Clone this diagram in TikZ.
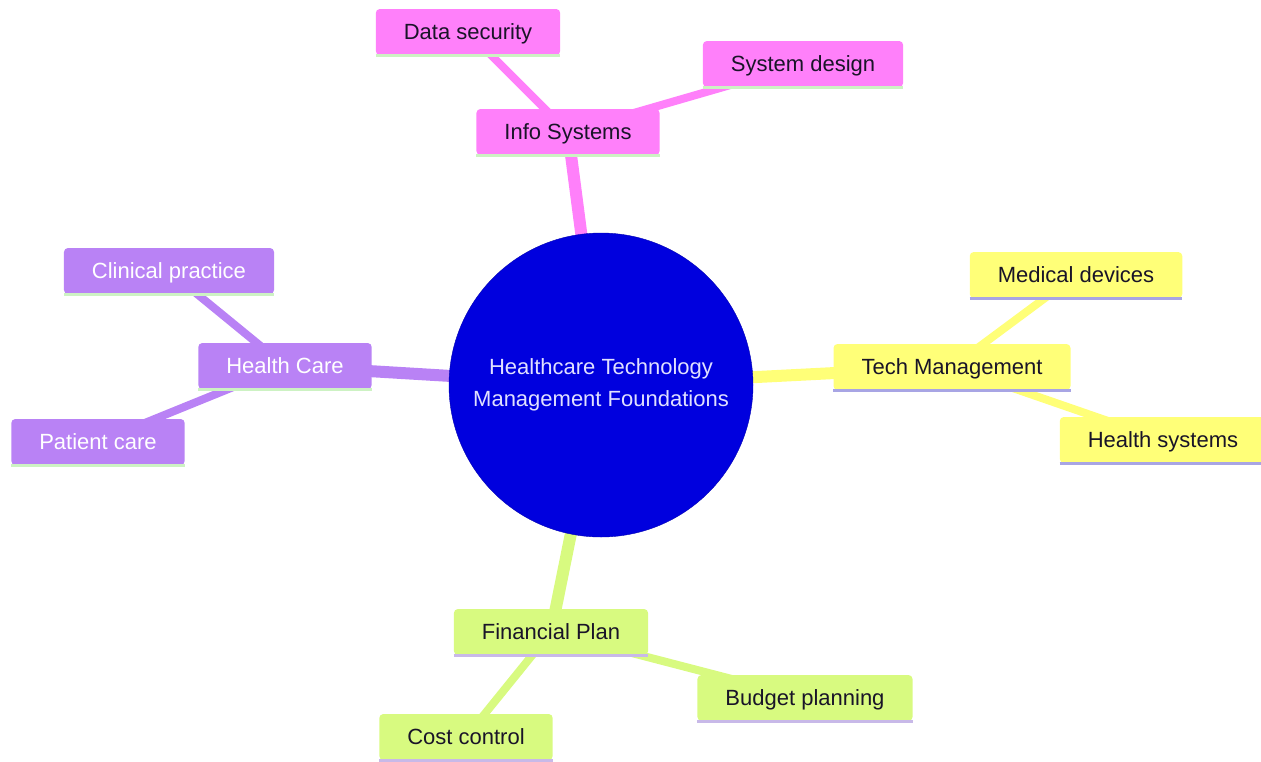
\documentclass[tikz,border=0pt]{standalone}
\usepackage{fontspec}
\setmainfont{Liberation Sans}
\usepackage{xcolor}
\usepackage{tikz}
\usetikzlibrary{positioning}
\usetikzlibrary{backgrounds}

\definecolor{rootblue}{RGB}{0,0,222}
\definecolor{infopink}{RGB}{255,128,250}
\definecolor{carepurple}{RGB}{185,130,245}
\definecolor{techyellow}{RGB}{255,255,120}
\definecolor{plangreen}{RGB}{216,250,128}
\definecolor{ulgreen}{RGB}{205,242,195}
\definecolor{ulblue}{RGB}{168,165,228}
\definecolor{ullilac}{RGB}{200,185,232}
\definecolor{inktext}{RGB}{25,20,40}

\tikzset{
    topic/.style={rectangle, rounded corners=4pt, inner xsep=28pt,
      minimum height=46pt, text height=18pt, text depth=3pt,
      text=inktext, font=\fontsize{22}{26}\selectfont},
    branch/.style={line width=12pt},
    twig/.style={line width=8pt},
    underline/.style={line width=3pt}
}

\begin{document}
\begin{tikzpicture}[x=1pt, y=-1pt]

    \useasboundingbox (0, 0) rectangle (1261, 761);

    \node [circle, fill=rootblue, draw=rootblue!80!black, minimum size=304pt,
      align=center, text=white!88!blue, font=\fontsize{22}{32}\selectfont]
      (root) at (601, 385) {Healthcare Technology\\Management Foundations};

    \node [topic, fill=infopink] (info) at (568, 132) {Info Systems};
    \node [topic, fill=infopink] (datasec) at (468, 32) {Data security};
    \node [topic, fill=infopink] (sysdesign) at (803, 64) {System design};

    \node [topic, fill=techyellow] (tech) at (952, 367) {Tech Management};
    \node [topic, fill=techyellow] (meddev) at (1076, 275) {Medical devices};
    \node [topic, fill=techyellow] (healthsys) at (1163, 440) {Health systems};

    \node [topic, fill=carepurple, text=white] (care) at (285, 366) {Health Care};
    \node [topic, fill=carepurple, text=white] (clinical) at (169, 271) {Clinical practice};
    \node [topic, fill=carepurple, text=white] (patient) at (98, 442) {Patient care};

    \node [topic, fill=plangreen] (finance) at (551, 632) {Financial Plan};
    \node [topic, fill=plangreen] (budget) at (805, 698) {Budget planning};
    \node [topic, fill=plangreen] (cost) at (466, 737) {Cost control};

    \foreach \n/\c in {info/ulgreen, datasec/ulgreen, sysdesign/ulgreen,
      tech/ulblue, meddev/ulblue, healthsys/ulblue,
      care/ulgreen, clinical/ulgreen, patient/ulgreen,
      finance/ullilac, budget/ullilac, cost/ullilac}
      \draw [underline, \c] (\n.south west) -- (\n.south east);

    \begin{scope}[on background layer]
      \draw [branch, infopink] (root.center) -- (info.center);
      \draw [twig, infopink] (info.center) -- (datasec.center);
      \draw [twig, infopink] (info.center) -- (sysdesign.center);

      \draw [branch, techyellow] (root.center) -- (tech.center);
      \draw [twig, techyellow] (tech.center) -- (meddev.center);
      \draw [twig, techyellow] (tech.center) -- (healthsys.center);

      \draw [branch, carepurple] (root.center) -- (care.center);
      \draw [twig, carepurple] (care.center) -- (clinical.center);
      \draw [twig, carepurple] (care.center) -- (patient.center);

      \draw [branch, plangreen] (root.center) -- (finance.center);
      \draw [twig, plangreen] (finance.center) -- (budget.center);
      \draw [twig, plangreen] (finance.center) -- (cost.center);
    \end{scope}

  \end{tikzpicture}
\end{document}
